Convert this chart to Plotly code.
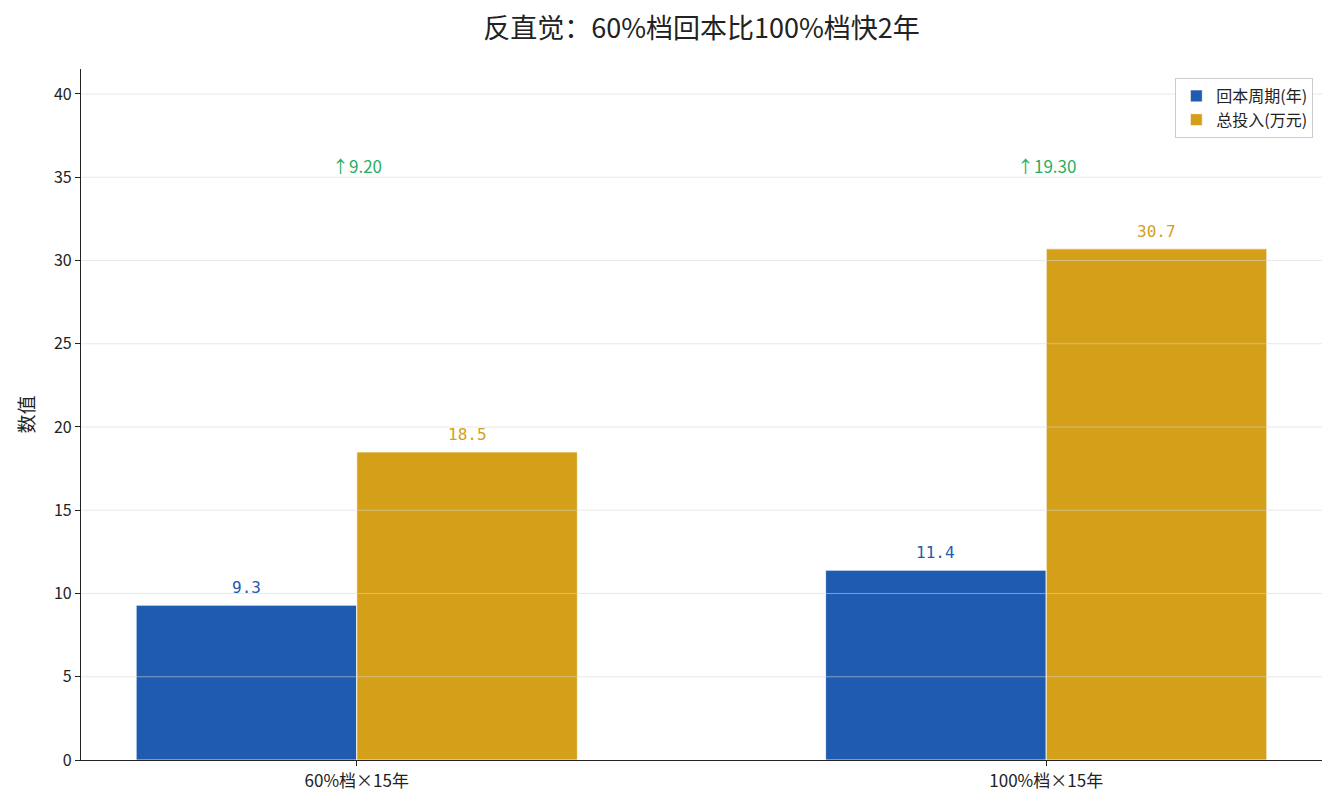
import plotly.graph_objects as go

categories = ["60%档×15年", "100%档×15年"]
payback_years = [9.3, 11.4]
total_invest = [18.5, 30.7]
diff_labels = ["↑9.20", "↑19.30"]
diff_y = [35.7, 35.7]
grid_y = [5, 10, 15, 20, 25, 30, 35, 40]

blue = "#1f5bb0"
gold = "#d4a01a"
green = "#27ae60"
font = "Noto Sans CJK SC"
mono = "DejaVu Sans Mono"

fig = go.Figure()
fig.add_trace(go.Bar(x=categories, y=payback_years, name="回本周期(年)",
                     marker=dict(color=blue, line=dict(color="white", width=0.8))))
fig.add_trace(go.Bar(x=categories, y=total_invest, name="总投入(万元)",
                     marker=dict(color=gold, line=dict(color="white", width=0.8))))

# value labels above bars
for i, c in enumerate(categories):
    fig.add_annotation(x=i - 0.16, y=payback_years[i], text=str(payback_years[i]),
                       showarrow=False, yanchor="bottom", yshift=6,
                       font=dict(color=blue, size=16, family=mono))
    fig.add_annotation(x=i + 0.16, y=total_invest[i], text=str(total_invest[i]),
                       showarrow=False, yanchor="bottom", yshift=6,
                       font=dict(color=gold, size=16, family=mono))
    fig.add_annotation(x=i, y=diff_y[i], text=diff_labels[i], showarrow=False,
                       font=dict(color=green, size=17, family=font))

# faint grid drawn over bars like the original
for g in grid_y:
    fig.add_shape(type="line", xref="paper", x0=0, x1=1, y0=g, y1=g,
                  line=dict(color="rgba(215,215,215,0.55)", width=1), layer="above")

fig.update_layout(
    width=1334, height=809,
    font=dict(family=font, size=16, color="#222"),
    title=dict(text="反直觉：60%档回本比100%档快2年", x=0.5, xref="paper", xanchor="center",
               y=0.974, yanchor="middle", font=dict(size=27, color="#222")),
    barmode="group", bargap=0.36, bargroupgap=0,
    plot_bgcolor="white", paper_bgcolor="white",
    margin=dict(l=73, r=20, t=61, b=57),
    legend=dict(x=0.993, y=0.987, xanchor="right", yanchor="top",
                bordercolor="#cccccc", borderwidth=1, bgcolor="rgba(255,255,255,0.9)",
                font=dict(size=16)),
    showlegend=True,
)
fig.update_xaxes(range=[-0.4, 1.4], showline=True, linecolor="#222", linewidth=1.2,
                 ticks="outside", ticklen=5, tickcolor="#222", showgrid=False,
                 tickfont=dict(size=17))
fig.update_yaxes(range=[0, 41.5], dtick=5, showline=True, linecolor="#222", linewidth=1.2,
                 ticks="outside", ticklen=5, tickcolor="#222", showgrid=False,
                 zeroline=False, title=dict(text="数值", font=dict(size=19), standoff=14),
                 tickfont=dict(size=16))

fig.write_html("out.html")
